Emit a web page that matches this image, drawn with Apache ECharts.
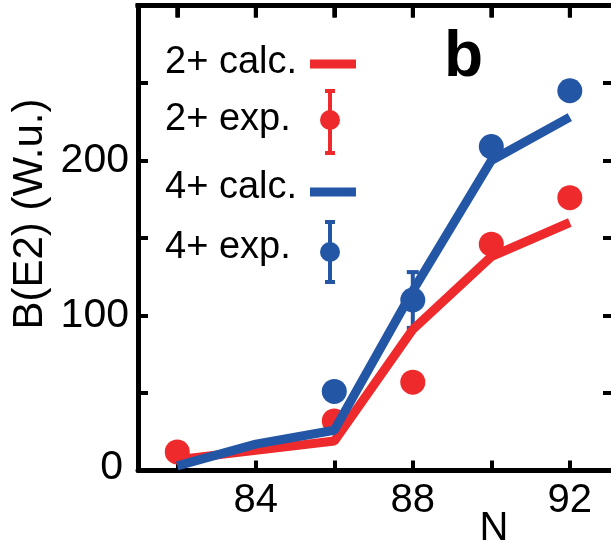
<!DOCTYPE html>
<html>
<head>
<meta charset="utf-8">
<script src="https://cdn.jsdelivr.net/npm/echarts@6/dist/echarts.min.js"></script>
<style>
  html, body { margin: 0; padding: 0; background: #fff; }
  #chart { width: 611px; height: 550px; }
</style>
</head>
<body>
<div id="chart"></div>
<script>
// ---- data ----
const calcN = [82, 84, 86, 88, 90, 92];
const calc2 = [7, 13, 19, 91, 138, 160];
const calc4 = [3, 17, 26, 116, 200, 228];
const exp2N = [82, 86, 88, 90, 92];
const exp2 = [12, 32, 57, 146, 176];
const exp4N = [86, 88, 90, 92];
const exp4 = [51, 110, 209, 245];
const err4N = [88];
const err4Lo = [92];
const err4Hi = [128];
const xTicks = [82, 84, 86, 88, 90, 92];
const xLabels = [84, 88, 92];
const yTicks = [0, 50, 100, 150, 200, 250, 300];
const yLabels = [0, 100, 200];
const legendNames = ['2+ calc.', '2+ exp.', '4+ calc.', '4+ exp.'];

const RED = '#EE2A2C';
const BLUE = '#2456A6';
const FONT = '"Liberation Sans", Arial, Helvetica, sans-serif';
const X_MIN = 81, X_MAX = 93.1, Y_MAX = 300;

const zip = (xs, ys) => xs.map((x, i) => [x, ys[i]]);

const chart = echarts.init(document.getElementById('chart'));

const axisLine = (show) => ({ show: show, onZero: false, lineStyle: { color: '#000', width: 5 } });
const tickStyle = () => ({ color: '#000', width: 4 });

function errRender(color) {
  return function (params, api) {
    const x = api.value(0), lo = api.value(1), hi = api.value(2);
    const a = api.coord([x, lo]), b = api.coord([x, hi]);
    const cw = 6;
    const st = { stroke: color, lineWidth: 4 };
    return {
      type: 'group',
      children: [
        { type: 'line', shape: { x1: a[0], y1: a[1], x2: b[0], y2: b[1] }, style: st },
        { type: 'line', shape: { x1: a[0] - cw, y1: a[1], x2: a[0] + cw, y2: a[1] }, style: st },
        { type: 'line', shape: { x1: b[0] - cw, y1: b[1], x2: b[0] + cw, y2: b[1] }, style: st }
      ]
    };
  };
}

function legendErr(cx, cy, top, bottom, color) {
  const st = { stroke: color, lineWidth: 4 };
  return [
    { type: 'line', shape: { x1: cx, y1: top, x2: cx, y2: bottom }, style: st },
    { type: 'line', shape: { x1: cx - 5, y1: top, x2: cx + 5, y2: top }, style: st },
    { type: 'line', shape: { x1: cx - 5, y1: bottom, x2: cx + 5, y2: bottom }, style: st },
    { type: 'circle', shape: { cx: cx, cy: cy, r: 10 }, style: { fill: color } }
  ];
}

const legendText = (t, y) => ({
  type: 'text', x: 165, y: y,
  style: { text: t, font: '38px ' + FONT, fill: '#000', textVerticalAlign: 'middle' }
});

const option = {
  animation: false,
  grid: { left: 138, top: 5.5, width: 475, height: 465, outerBoundsMode: 'none' },
  xAxis: [
    {
      type: 'value', position: 'bottom', min: X_MIN, max: X_MAX,
      axisLine: axisLine(true),
      axisTick: { show: true, inside: true, length: 10, lineStyle: tickStyle(), customValues: xTicks },
      axisLabel: { customValues: xLabels, fontSize: 40, fontFamily: FONT, color: '#000', margin: 10 },
      splitLine: { show: false }
    },
    {
      type: 'value', position: 'top', min: X_MIN, max: X_MAX,
      axisLine: axisLine(true),
      axisTick: { show: true, inside: true, length: 12, lineStyle: tickStyle(), customValues: xTicks },
      axisLabel: { show: false },
      splitLine: { show: false }
    }
  ],
  yAxis: [
    {
      type: 'value', position: 'left', min: 0, max: Y_MAX,
      axisLine: axisLine(true),
      axisTick: { show: true, inside: true, length: 10, lineStyle: tickStyle(), customValues: yTicks },
      axisLabel: {
        customValues: yLabels, fontSize: 41, fontFamily: FONT, color: '#000', margin: 9,
        formatter: v => (v === 0 ? '{z|0}' : String(v)),
        rich: { z: { fontSize: 41, fontFamily: FONT, color: '#000', padding: [0, 6, 6, 0] } }
      },
      splitLine: { show: false }
    },
    {
      type: 'value', position: 'right', min: 0, max: Y_MAX,
      axisLine: axisLine(false),
      axisTick: { show: true, inside: true, length: 10, lineStyle: tickStyle(), customValues: yTicks },
      axisLabel: { show: false },
      splitLine: { show: false }
    }
  ],
  series: [
    {
      name: '2+ exp.', type: 'scatter', data: zip(exp2N, exp2),
      symbol: 'circle', symbolSize: 25, itemStyle: { color: RED, opacity: 1 }
    },
    {
      name: '4+ exp.', type: 'scatter', data: zip(exp4N, exp4),
      symbol: 'circle', symbolSize: 25, itemStyle: { color: BLUE, opacity: 1 }
    },
    {
      name: '2+ calc.', type: 'line', data: zip(calcN, calc2), showSymbol: false,
      lineStyle: { color: RED, width: 9 }
    },
    {
      name: '4+ calc.', type: 'line', data: zip(calcN, calc4), showSymbol: false,
      lineStyle: { color: BLUE, width: 9 }
    },
    {
      name: '4+ exp. err', type: 'custom', renderItem: errRender(BLUE),
      data: err4N.map((x, i) => [x, err4Lo[i], err4Hi[i]])
    }
  ]
};

chart.setOption(option);

// frame top edge and its inward ticks, positioned through the chart's own scales
const frame = [];
const pTL = chart.convertToPixel({ gridIndex: 0 }, [X_MIN, Y_MAX]);
const pTR = chart.convertToPixel({ gridIndex: 0 }, [X_MAX, Y_MAX]);
if (pTL && pTR) {
  frame.push({
    type: 'line', z: 100,
    shape: { x1: pTL[0] - 2.5, y1: pTL[1], x2: pTR[0] + 2.5, y2: pTR[1] },
    style: { stroke: '#000', lineWidth: 5 }
  });
  xTicks.forEach(x => {
    const p = chart.convertToPixel({ gridIndex: 0 }, [x, Y_MAX]);
    frame.push({
      type: 'line', z: 100,
      shape: { x1: p[0], y1: p[1], x2: p[0], y2: p[1] + 12 },
      style: { stroke: '#000', lineWidth: 4 }
    });
  });
}

chart.setOption({
  graphic: [
    ...frame,
    legendText(legendNames[0], 63),
    { type: 'rect', shape: { x: 310, y: 59.5, width: 46, height: 9 }, style: { fill: RED } },
    legendText(legendNames[1], 120),
    ...legendErr(330, 120, 91, 153, RED),
    legendText(legendNames[2], 188),
    { type: 'rect', shape: { x: 310, y: 187.5, width: 46, height: 9 }, style: { fill: BLUE } },
    legendText(legendNames[3], 248),
    ...legendErr(330, 252, 222, 282, BLUE),
    {
      type: 'text', x: 444, y: 90,
      style: { text: 'b', font: 'bold 64px ' + FONT, fill: '#000', textVerticalAlign: 'bottom' }
    },
    {
      type: 'text', x: 30, y: 214, rotation: Math.PI / 2,
      style: { text: 'B(E2) (W.u.)', font: '42px ' + FONT, fill: '#000', textAlign: 'center', textVerticalAlign: 'middle' }
    },
    {
      type: 'text', x: 494, y: 529,
      style: { text: 'N', font: '40px ' + FONT, fill: '#000', textAlign: 'center', textVerticalAlign: 'middle' }
    }
  ]
});
</script>
</body>
</html>
